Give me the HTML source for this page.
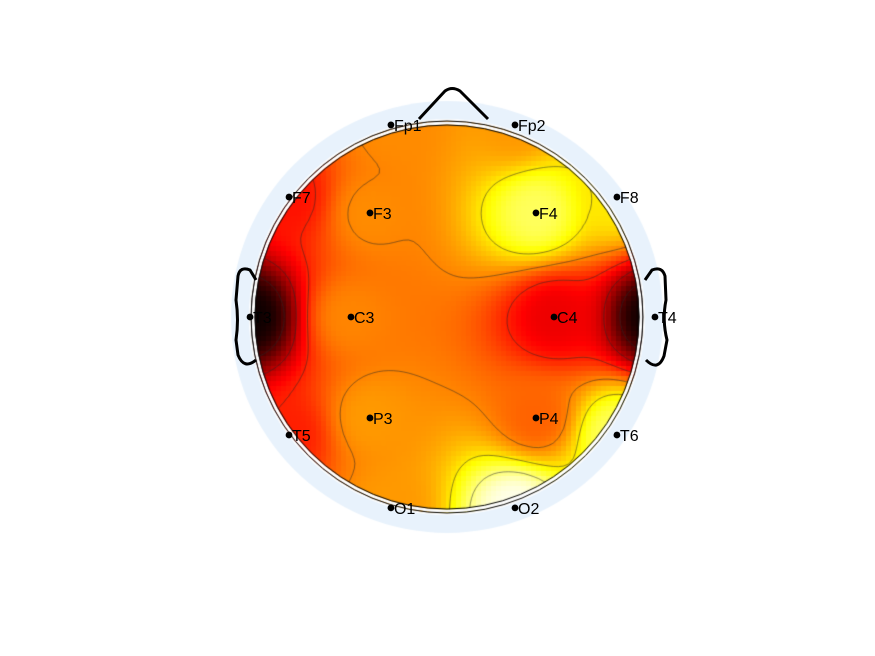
<!DOCTYPE html>
<html><head><meta charset="utf-8"><style>
html,body{margin:0;padding:0;background:#fff;width:875px;height:656px;overflow:hidden}
#wrap{position:relative;width:875px;height:656px}
canvas,svg{position:absolute;left:0;top:0}
text{font-family:"Liberation Sans",sans-serif;font-size:16px;fill:#000}
</style></head><body>
<div id="wrap">
<canvas id="cv" width="875" height="656"></canvas>
<svg id="sv" width="875" height="656"></svg>
</div>
<script>
const channels = ["Fp1","Fp2","F7","F3","F4","F8","T3","C3","C4","T4","T5","P3","P4","T6","O1","O2"];
const chanX = [-0.286,0.347,-0.806,-0.393,0.454,0.867,-1.005,-0.49,0.546,1.061,-0.806,-0.393,0.454,0.867,-0.286,0.347];
const chanY = [0.98,0.98,0.612,0.531,0.531,0.612,0.0,0.0,0.0,0.0,-0.602,-0.515,-0.515,-0.602,-0.974,-0.974];
const chanVal = [0.58,0.6,0.4,0.58,0.84,0.72,0.02,0.57,0.35,0.02,0.42,0.6,0.52,0.84,0.6,0.98];

const CX=447, CY=317, R=196;
function px(x){return CX+x*R;}
function py(y){return CY-y*R;}
function hot(v){v=Math.max(0,Math.min(1,v));
  const r=Math.min(1,v/0.375), g=Math.max(0,Math.min(1,(v-0.375)/0.375)), b=Math.max(0,Math.min(1,(v-0.75)/0.25));
  return [Math.round(r*255),Math.round(g*255),Math.round(b*255)];}
function interp(x,y){let ws=0,s=0;
  for(let i=0;i<channels.length;i++){const d=(x-chanX[i])**2+(y-chanY[i])**2;
    if(d<1e-6)return chanVal[i];const w=1/Math.pow(d,1.5);ws+=w;s+=w*chanVal[i];}
  return s/ws;}
const cv=document.getElementById('cv');


const ctx=cv.getContext('2d');
ctx.fillStyle='#e8f2fc';ctx.beginPath();ctx.arc(CX,CY,216,0,2*Math.PI);ctx.fill();
ctx.fillStyle='#fff';ctx.beginPath();ctx.arc(CX,CY,198,0,2*Math.PI);ctx.fill();
ctx.save();ctx.beginPath();ctx.arc(CX,CY,196,0,2*Math.PI);ctx.clip();
const step=5;
const grid=[];
for(let gy=CY-R;gy<=CY+R;gy+=step){const row=[];
  for(let gx=CX-R;gx<=CX+R;gx+=step){
    const x=(gx+step/2-CX)/R, y=-(gy+step/2-CY)/R;
    const v=interp(x,y);row.push(v);
    const c=hot(v);ctx.fillStyle=`rgb(${c[0]},${c[1]},${c[2]})`;ctx.fillRect(gx,gy,step+0.5,step+0.5);}
  grid.push(row);}
const levels=[0.12,0.27,0.42,0.57,0.72,0.87];
ctx.strokeStyle='rgba(40,40,40,0.75)';ctx.lineWidth=0.7;
for(const L of levels){ctx.beginPath();
  for(let j=0;j<grid.length-1;j++)for(let i=0;i<grid[j].length-1;i++){
    const a=grid[j][i],b=grid[j][i+1],c=grid[j+1][i+1],d=grid[j+1][i];
    const x0=CX-R+i*step+step/2,y0=CY-R+j*step+step/2;
    const pts=[];
    if((a<L)!=(b<L))pts.push([x0+step*(L-a)/(b-a),y0]);
    if((b<L)!=(c<L))pts.push([x0+step,y0+step*(L-b)/(c-b)]);
    if((d<L)!=(c<L))pts.push([x0+step*(L-d)/(c-d),y0+step]);
    if((a<L)!=(d<L))pts.push([x0,y0+step*(L-a)/(d-a)]);
    if(pts.length>=2){ctx.moveTo(pts[0][0],pts[0][1]);ctx.lineTo(pts[1][0],pts[1][1]);}
    if(pts.length==4){ctx.moveTo(pts[2][0],pts[2][1]);ctx.lineTo(pts[3][0],pts[3][1]);}
  }ctx.stroke();}
ctx.restore();
ctx.strokeStyle='#fff';ctx.lineWidth=3;ctx.beginPath();ctx.arc(CX,CY,194,0,2*Math.PI);ctx.stroke();
ctx.strokeStyle='#000';ctx.lineWidth=1;ctx.beginPath();ctx.arc(CX,CY,196,0,2*Math.PI);ctx.stroke();
ctx.beginPath();ctx.arc(CX,CY,192,0,2*Math.PI);ctx.stroke();

const NS='http://www.w3.org/2000/svg';
const sv=document.getElementById('sv');
function add(tag,attrs,name){const e=document.createElementNS(NS,tag);for(const k in attrs)e.setAttribute(k,attrs[k]);
  
  
  sv.appendChild(e);return e;}
add('path',{d:'M419,119 L445,91 Q452,86 460,91 L488,119',fill:'none',stroke:'#000','stroke-width':3,'stroke-linejoin':'round'},'nose');
add('path',{d:'M256,280 L250,270 Q240,266 238,276 L236,300 Q239,320 236,340 L238,355 Q244,370 256,360',fill:'none',stroke:'#000','stroke-width':3,'stroke-linejoin':'round'},'left-ear');
add('path',{d:'M645,280 L652,270 Q662,266 665,276 L666,300 Q662,320 667,340 L664,356 Q658,372 646,360',fill:'none',stroke:'#000','stroke-width':3,'stroke-linejoin':'round'},'right-ear');
for(let i=0;i<channels.length;i++){
  const X=px(chanX[i]),y=py(chanY[i]);
  add('circle',{cx:X,cy:y,r:3.4,fill:'#000'},'electrode-'+channels[i].toLowerCase());
  const t=add('text',{x:X+3,y:y+6},'label-'+channels[i].toLowerCase());t.textContent=channels[i];
}
</script>
</body></html>
